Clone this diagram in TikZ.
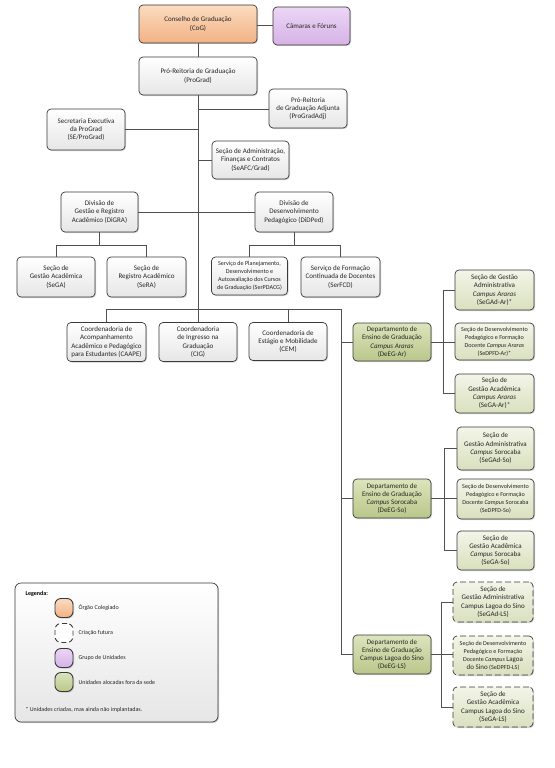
\documentclass[tikz,border=0pt]{standalone}
\usepackage{fontspec}
\setmainfont{Carlito}
\usetikzlibrary{shadows}
\definecolor{bord}{HTML}{3A3A3A}
\definecolor{linec}{HTML}{505050}
\definecolor{orTop}{HTML}{FBDCC0}
\definecolor{orBot}{HTML}{F2B184}
\definecolor{puTop}{HTML}{EBD6F5}
\definecolor{puBot}{HTML}{D6B2E6}
\definecolor{whTop}{HTML}{FFFFFF}
\definecolor{whBot}{HTML}{E6E6E6}
\definecolor{dgTop}{HTML}{DCE4BC}
\definecolor{dgBot}{HTML}{B9C78A}
\definecolor{lgTop}{HTML}{F3F5E8}
\definecolor{lgBot}{HTML}{D9E0BE}
\newcommand{\fsn}{\fontsize{7}{8.3}\selectfont}
\newcommand{\fss}{\fontsize{6.1}{8.1}\selectfont}
\tikzset{
  box/.style={draw=bord, line width=0.7pt, rounded corners=4pt, align=center,
    inner sep=1pt, font=\fsn, text=black!85,
    drop shadow={shadow xshift=1pt, shadow yshift=-1pt, opacity=0.3, fill=black!60}},
  wbox/.style={box, top color=whTop, bottom color=whBot},
  obox/.style={box, top color=orTop, bottom color=orBot},
  pbox/.style={box, top color=puTop, bottom color=puBot},
  dgbox/.style={box, top color=dgTop, bottom color=dgBot},
  lgbox/.style={box, top color=lgTop, bottom color=lgBot},
  fut/.style={dash pattern=on 6pt off 3pt},
  conn/.style={draw=linec, line width=0.6pt},
  small/.style={font=\fss},
  swatch/.style={minimum width=18pt, minimum height=19pt, rounded corners=6pt, line width=0.9pt},
  legtext/.style={anchor=west, font=\fontsize{6}{7}\selectfont, text=black!85}
}
\newcommand{\bx}[7]{\node[#6, minimum width=#4pt, minimum height=#5pt] (#1) at (#2,#3) {#7};}
\begin{document}
\begin{tikzpicture}[x=1pt,y=-1pt]
\useasboundingbox (0,0) rectangle (554,768);
\fill[white] (0,0) rectangle (554,768);
\coordinate (sp1) at (198,109);
\coordinate (sp2) at (198,129);
\coordinate (sp3) at (198,160);
\coordinate (b1l) at (56,245);
\coordinate (b1r) at (146.5,245);
\coordinate (b1m) at (99.5,245);
\coordinate (b2l) at (249.5,245);
\coordinate (b2r) at (340.5,245);
\coordinate (b2m) at (294,245);
\coordinate (cbl) at (106.5,309);
\coordinate (cbr) at (341,309);
\coordinate (cbm) at (288,309);
\coordinate (vAr) at (341,342);
\coordinate (vSo) at (341,498.5);
\coordinate (vLS) at (341,654.5);
\coordinate (rAr) at (443,342);
\coordinate (rAr1) at (443,290);
\coordinate (rAr3) at (443,393.5);
\coordinate (rSo) at (444,498.5);
\coordinate (rSo1) at (444,448.5);
\coordinate (rSo3) at (444,550.5);
\coordinate (rLS) at (441,654.5);
\coordinate (rLS1) at (441,602);
\coordinate (rLS3) at (441,707);

\bx{cog}{198}{24}{118}{38}{obox}{Conselho de Graduação\\(CoG)}
\bx{cam}{311.5}{26}{77}{38}{pbox}{Câmaras e Fóruns}
\bx{prograd}{198}{76}{118}{38}{wbox}{Pró-Reitoria de Graduação\\(ProGrad)}
\bx{adj}{308}{108.5}{78}{39}{wbox}{Pró-Reitoria\\de Graduação Adjunta\\(ProGradAdj)}
\bx{se}{86}{129.5}{78}{41}{wbox}{Secretaria Executiva\\da ProGrad\\(SE/ProGrad)}
\bx{seafc}{250.5}{160}{77}{38}{wbox}{Seção de Administração,\\Finanças e Contratos\\(SeAFC/Grad)}
\bx{digra}{99.5}{212}{77}{40}{wbox}{Divisão de\\Gestão e Registro\\Acadêmico (DiGRA)}
\bx{didped}{294}{212}{78}{40}{wbox}{Divisão de\\Desenvolvimento\\Pedagógico (DiDPed)}
\bx{sega}{56}{277}{78}{40}{wbox}{Seção de\\Gestão Acadêmica\\(SeGA)}
\bx{sera}{146.5}{277}{79}{40}{wbox}{Seção de\\Registro Acadêmico\\(SeRA)}
\bx{serp}{249.5}{276}{76}{38}{wbox,small}{Serviço de Planejamento,\\Desenvolvimento e\\Autoavaliação dos Cursos\\de Graduação (SerPDACG)}
\bx{serfcd}{340.5}{277}{79}{40}{wbox}{Serviço de Formação\\Continuada de Docentes\\(SerFCD)}
\bx{caape}{106.5}{342}{79}{39}{wbox}{Coordenadoria de\\Acompanhamento\\Acadêmico e Pedagógico\\para Estudantes (CAAPE)}
\bx{cig}{198}{342}{78}{39}{wbox}{Coordenadoria\\de Ingresso na\\Graduação\\(CIG)}
\bx{cem}{288}{341.5}{78}{38}{wbox}{Coordenadoria de\\Estágio e Mobilidade\\(CEM)}
\bx{dar}{392}{342}{78}{38}{dgbox}{Departamento de\\Ensino de Graduação\\\textit{Campus Araras}\\(DeEG-Ar)}
\bx{gadar}{494.5}{290}{79}{40}{lgbox}{Seção de Gestão\\Administrativa\\\textit{Campus Araras}\\(SeGAd-Ar)*}
\bx{dpfdar}{494.5}{341.5}{79}{37}{lgbox,small}{Seção de Desenvolvimento\\Pedagógico e Formação\\Docente \textit{Campus Araras}\\(SeDPFD-Ar)*}
\bx{gaar}{494.5}{393.5}{79}{39}{lgbox}{Seção de\\Gestão Acadêmica\\\textit{Campus Araras}\\(SeGA-Ar)*}
\bx{dso}{392}{498.5}{78}{39}{dgbox}{Departamento de\\Ensino de Graduação\\\textit{Campus} Sorocaba\\(DeEG-So)}
\bx{gadso}{495.5}{448.5}{77}{43}{lgbox}{Seção de\\Gestão Administrativa\\\textit{Campus} Sorocaba\\(SeGAd-So)}
\bx{dpfdso}{495.5}{499}{77}{40}{lgbox,small}{Seção de Desenvolvimento\\Pedagógico e Formação\\Docente \textit{Campus} Sorocaba\\(SeDPFD-So)}
\bx{gaso}{495.5}{550.5}{77}{39}{lgbox}{Seção de\\Gestão Acadêmica\\\textit{Campus} Sorocaba\\(SeGA-So)}
\bx{dls}{392}{654.5}{78}{39}{dgbox}{Departamento de\\Ensino de Graduação\\Campus Lagoa do Sino\\(DeEG-LS)}
\bx{gadls}{493}{602}{80}{40}{lgbox,fut}{Seção de\\Gestão Administrativa\\Campus Lagoa do Sino\\(SeGAd-LS)}
\bx{dpfdls}{493}{655.5}{80}{39}{lgbox,fut,small}{Seção de Desenvolvimento\\Pedagógico e Formação\\Docente \textit{Campus} {\fsn Lagoa}\\{\fsn do Sino} (SeDPFD-LS)}
\bx{gals}{493}{707}{80}{40}{lgbox,fut}{Seção de\\Gestão Acadêmica\\Campus Lagoa do Sino\\(SeGA-LS)}

\draw[conn] (cog.east) ++(0,1) -- (cam.west |- 0,25);
\draw[conn] (cog.south) -- (prograd.north);
\draw[conn] (prograd.south) -- (cig.north);
\draw[conn] (sp1) -- (adj.west |- sp1);
\draw[conn] (se.east |- sp2) -- (sp2);
\draw[conn] (sp3) -- (seafc.west |- sp3);
\draw[conn] (digra.east) -- (didped.west);
\draw[conn] (digra.south) -- (b1m);
\draw[conn] (sega.north) |- (b1l) -- (b1r) -- (sera.north);
\draw[conn] (didped.south) -- (b2m);
\draw[conn] (serp.north) |- (b2l) -- (b2r) -- (serfcd.north);
\draw[conn] (caape.north) -- (cbl) -- (cbr) -- (vLS) -- (dls.west);
\draw[conn] (cbm) -- (cem.north);
\draw[conn] (vAr) -- (dar.west);
\draw[conn] (vSo) -- (dso.west);
\draw[conn] (dar.east) -- (rAr);
\draw[conn] (gadar.west) -- (rAr1) -- (rAr3) -- (gaar.west);
\draw[conn] (rAr) -- (dpfdar.west |- rAr);
\draw[conn] (dso.east) -- (rSo);
\draw[conn] (gadso.west) -- (rSo1) -- (rSo3) -- (gaso.west);
\draw[conn] (rSo) -- (dpfdso.west |- rSo);
\draw[conn] (dls.east) -- (rLS);
\draw[conn] (gadls.west) -- (rLS1) -- (rLS3) -- (gals.west);
\draw[conn] (rLS) -- (dpfdls.west |- rLS);

% legend
\node[wbox, minimum width=203pt, minimum height=139pt, rounded corners=6pt] (leg) at (116.5,652.5) {};
\node[anchor=west, font=\fontsize{6}{7}\selectfont\bfseries] (legt) at (22,594) {Legenda:};
\node[obox, swatch] (l1) at (64,608) {};
\node[draw=bord, fill=white, swatch, dash pattern=on 5pt off 3pt] (l2) at (64,633) {};
\node[pbox, swatch] (l3) at (64,658) {};
\node[dgbox, swatch] (l4) at (64,682) {};
\node[legtext] (t1) at (75,608) {Órgão Colegiado};
\node[legtext] (t2) at (75,633) {Criação futura};
\node[legtext] (t3) at (75,658) {Grupo de Unidades};
\node[legtext] (t4) at (75,682) {Unidades alocadas fora da sede};
\node[legtext] (fn) at (22,710) {* Unidades criadas, mas ainda não implantadas.};
\end{tikzpicture}
\end{document}
